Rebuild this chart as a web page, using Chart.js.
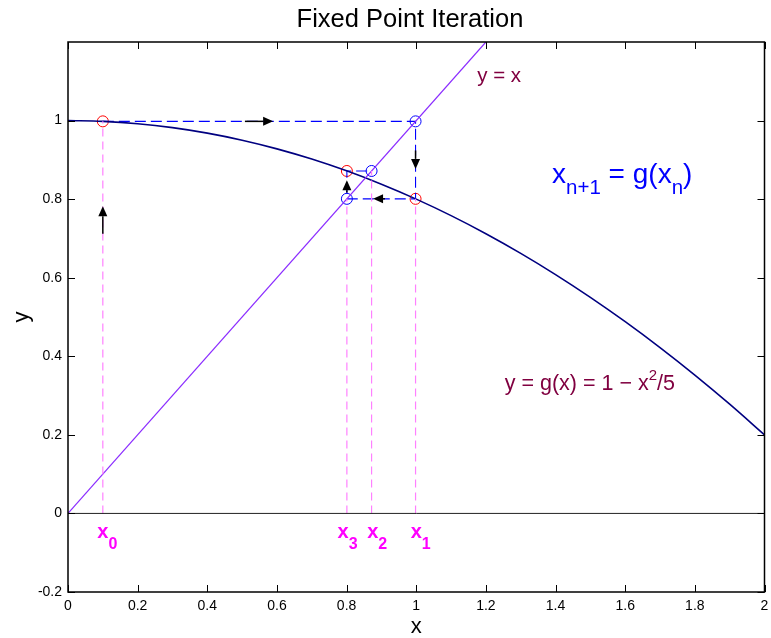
<!DOCTYPE html>
<html><head><meta charset="utf-8">
<script src="https://cdn.jsdelivr.net/npm/chart.js@4.4.1/dist/chart.umd.min.js"></script>
<style>html,body{margin:0;padding:0;background:#fff}#wrap{width:771px;height:638px}</style>
</head><body><div id="wrap"><canvas id="c" width="771" height="638"></canvas></div>
<script>
// ---- data ----
const curveX = [0,0.1,0.2,0.3,0.4,0.5,0.6,0.7,0.8,0.9,1.0,1.1,1.2,1.3,1.4,1.5,1.6,1.7,1.8,1.9,2.0];
const curveY = [1,0.998,0.992,0.982,0.968,0.95,0.928,0.902,0.872,0.838,0.8,0.758,0.712,0.662,0.608,0.55,0.488,0.422,0.352,0.278,0.2];
const identityX = [0, 1.2];
const identityY = [0, 1.2];
const axisLineX = [0, 2];
const axisLineY = [0, 0];
const labelSubs = ['0', '1', '2', '3'];
const redX = [0.1, 0.998, 0.8008];
const redY = [0.998, 0.8008, 0.8717];
const blueX = [0.998, 0.8008, 0.8717];
const blueY = [0.998, 0.8008, 0.8717];
const pathX = [0.1, 0.998, 0.998, 0.8008, 0.8008, 0.8717];
const pathY = [0.998, 0.998, 0.8008, 0.8008, 0.8717, 0.8717];
const guideX = [0.1, 0.998, 0.8008, 0.8717];
const guideTop = [0.998, 0.8008, 0.8008, 0.8717];
const arrowTailX = [0.508, 0.998, 0.91, 0.8008, 0.1];
const arrowTailY = [0.998, 0.924, 0.8008, 0.817, 0.712];
const arrowTipX  = [0.589, 0.998, 0.876, 0.8008, 0.1];
const arrowTipY  = [0.998, 0.877, 0.8008, 0.848, 0.782];
const xTickValues = [0,0.2,0.4,0.6,0.8,1,1.2,1.4,1.6,1.8,2];
const xTickLabels = ['0','0.2','0.4','0.6','0.8','1','1.2','1.4','1.6','1.8','2'];
const yTickValues = [-0.2,0,0.2,0.4,0.6,0.8,1];
const yTickLabels = ['-0.2','0','0.2','0.4','0.6','0.8','1'];

const FAM = '"Liberation Sans", Arial, Helvetica, sans-serif';
Chart.defaults.font.family = FAM;
Chart.defaults.color = '#000';

const pts = (xs, ys) => xs.map((x, i) => ({x, y: ys[i]}));
const lineDs = (data, color, width, dash) => ({
  data, showLine: true, borderColor: color, borderWidth: width, borderDash: dash || [],
  pointRadius: 0, pointHoverRadius: 0, fill: false
});

const datasets = [];
datasets.push(lineDs(pts(axisLineX, axisLineY), '#222', 1));
guideX.forEach((gx, i) => datasets.push(lineDs(pts([gx, gx], [0, guideTop[i]]), '#ff80ff', 1.2, [8, 5])));
datasets.push(lineDs(pts(identityX, identityY), '#8a2bff', 1.2));
datasets.push(Object.assign(lineDs(pts(curveX, curveY), '#000080', 1.6), {cubicInterpolationMode: 'monotone'}));
datasets.push(lineDs(pts(pathX, pathY), '#0000ff', 1.1, [11, 5]));
datasets.push({data: pts(redX, redY), showLine: false, pointRadius: 5.5, pointBorderColor: '#ff0000', pointBackgroundColor: 'rgba(0,0,0,0)', pointBorderWidth: 1});
datasets.push({data: pts(blueX, blueY), showLine: false, pointRadius: 5.5, pointBorderColor: '#0000ff', pointBackgroundColor: 'rgba(0,0,0,0)', pointBorderWidth: 1});

function drawRich(ctx, parts, x, y, mode, color) {
  let w = 0;
  parts.forEach(p => { ctx.font = (p.weight || 'normal') + ' ' + p.size + 'px ' + FAM; p.w = ctx.measureText(p.t).width; w += p.w; });
  let cx = x;
  if (mode === 'center') cx = x - w / 2;
  else if (mode === 'first') cx = x - parts[0].w / 2;
  ctx.fillStyle = color; ctx.textBaseline = 'middle'; ctx.textAlign = 'left';
  parts.forEach(p => { ctx.font = (p.weight || 'normal') + ' ' + p.size + 'px ' + FAM; ctx.fillText(p.t, cx, y + (p.dy || 0)); cx += p.w; });
}

const annotations = [
  {x: 1.175, y: 1.112, mode: 'left', color: '#800040', parts: [{t: 'y = x', size: 20.5}]},
  {x: 1.39, y: 0.862, mode: 'left', color: '#0000ff', parts: [{t: 'x', size: 28}, {t: 'n+1', size: 20.5, dy: 14}, {t: ' = g(x', size: 28}, {t: 'n', size: 20.5, dy: 14}, {t: ')', size: 28}]},
  {x: 1.254, y: 0.328, mode: 'left', color: '#800040', parts: [{t: 'y = g(x) = 1 \u2212 x', size: 21.5}, {t: '2', size: 15, dy: -9}, {t: '/5', size: 21.5}]}
];
const subLabelX = [0.1, 1.0, 0.875, 0.79];
const subLabelY = -0.048;

const decor = {
  id: 'decor',
  afterDatasetsDraw(chart) {
    const {ctx, chartArea: a, scales: {x, y}} = chart;
    ctx.save();
    // arrows
    ctx.strokeStyle = '#000'; ctx.fillStyle = '#000'; ctx.lineWidth = 1.5;
    arrowTipX.forEach((tx, i) => {
      const x1 = x.getPixelForValue(arrowTailX[i]), y1 = y.getPixelForValue(arrowTailY[i]);
      const x2 = x.getPixelForValue(tx), y2 = y.getPixelForValue(arrowTipY[i]);
      const ang = Math.atan2(y2 - y1, x2 - x1);
      const L = 10, H = 4.5;
      const bx = x2 - L * Math.cos(ang), by = y2 - L * Math.sin(ang);
      ctx.beginPath(); ctx.moveTo(x1, y1); ctx.lineTo(bx, by); ctx.stroke();
      ctx.beginPath(); ctx.moveTo(x2, y2);
      ctx.lineTo(bx + H * Math.sin(ang), by - H * Math.cos(ang));
      ctx.lineTo(bx - H * Math.sin(ang), by + H * Math.cos(ang));
      ctx.closePath(); ctx.fill();
    });
    // iterate labels
    subLabelX.forEach((lx, i) => {
      drawRich(ctx, [{t: 'x', size: 20, weight: 'bold'}, {t: labelSubs[i], size: 16, weight: 'bold', dy: 12}],
        x.getPixelForValue(lx), y.getPixelForValue(subLabelY), 'first', '#ff00ff');
    });
    annotations.forEach(an => drawRich(ctx, an.parts, x.getPixelForValue(an.x), y.getPixelForValue(an.y), an.mode, an.color));
    // box
    ctx.strokeStyle = '#000'; ctx.lineWidth = 1.5;
    ctx.strokeRect(a.left, a.top, a.right - a.left, a.bottom - a.top);
    // inward ticks
    ctx.lineWidth = 1;
    const T = 7;
    ctx.beginPath();
    xTickValues.forEach(v => {
      const px = Math.round(x.getPixelForValue(v)) + 0.5;
      ctx.moveTo(px, a.bottom); ctx.lineTo(px, a.bottom - T);
      ctx.moveTo(px, a.top); ctx.lineTo(px, a.top + T);
    });
    yTickValues.forEach(v => {
      const py = Math.round(y.getPixelForValue(v)) + 0.5;
      ctx.moveTo(a.left, py); ctx.lineTo(a.left + T, py);
      ctx.moveTo(a.right, py); ctx.lineTo(a.right - T, py);
    });
    ctx.stroke();
    // title
    ctx.fillStyle = '#000'; ctx.font = '25.5px ' + FAM; ctx.textAlign = 'center'; ctx.textBaseline = 'middle';
    ctx.fillText('Fixed Point Iteration', 410, 20);
    ctx.restore();
  }
};

new Chart(document.getElementById('c'), {
  type: 'scatter',
  data: {datasets},
  options: {
    responsive: false, animation: false,
    layout: {padding: {top: 42, right: 6, left: 0, bottom: 0}},
    plugins: {legend: {display: false}, tooltip: {enabled: false}, title: {display: false}},
    scales: {
      x: {
        type: 'linear', min: 0, max: 2,
        afterBuildTicks: s => { s.ticks = xTickValues.map(v => ({value: v})); },
        afterFit: s => { s.height = 46; s.paddingLeft = 0; s.paddingRight = 0; },
        grid: {display: false, drawTicks: false}, border: {display: false},
        ticks: {autoSkip: false, maxRotation: 0, padding: 6, font: {size: 14}, callback: (v, i) => xTickLabels[i]},
        title: {display: true, text: 'x', font: {size: 22, lineHeight: 1}, padding: {top: 0, bottom: 0}}
      },
      y: {
        type: 'linear', min: -0.2, max: 1.2,
        afterBuildTicks: s => { s.ticks = yTickValues.map(v => ({value: v})); },
        afterFit: s => { s.width = 68; s.paddingTop = 0; s.paddingBottom = 0; },
        grid: {display: false, drawTicks: false}, border: {display: false},
        ticks: {autoSkip: false, padding: 6, font: {size: 14}, callback: (v, i) => yTickLabels[i]},
        title: {display: true, text: 'y', font: {size: 22, lineHeight: 1}, padding: {top: 11, bottom: 0}}
      }
    }
  },
  plugins: [decor]
});
</script>
</body></html>
